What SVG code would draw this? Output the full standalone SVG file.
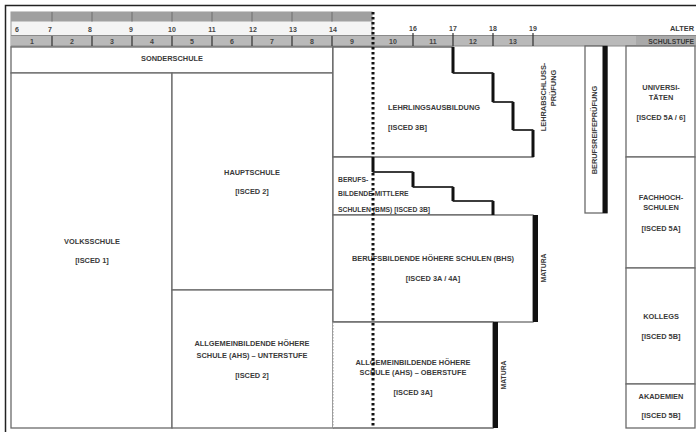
<svg xmlns="http://www.w3.org/2000/svg" width="696" height="432" viewBox="0 0 696 432">
<style>
.t{font-family:"Liberation Sans",Arial,sans-serif;font-size:7.4px;font-weight:bold;fill:#3a3a3a;text-anchor:middle}
.s{font-size:6.8px}
.l{text-anchor:start}
.e{text-anchor:end}
.box{fill:#fff;stroke:#6a6a6a;stroke-width:1.3}
.thick{stroke:#111;stroke-width:3;fill:none}
.thin{stroke:#222;stroke-width:1.3;fill:none}
.bar{stroke:#111;stroke-width:5;fill:none}
.num{font-family:"Liberation Sans",Arial,sans-serif;font-size:7px;font-weight:bold;fill:#444;text-anchor:middle}
.tick{stroke:#333;stroke-width:1.2}
</style>
<rect width="696" height="432" fill="#fff"/>
<path d="M5.5,432 V5.5 H696" fill="none" stroke="#222" stroke-width="1.5"/>

<g id="ruler">
  <rect x="11" y="12" width="361" height="35" fill="#f4f4f4" stroke="#999" stroke-width="1"/>
  <rect x="11" y="12" width="361" height="9.5" fill="#a0a0a0"/>
  <rect x="11" y="35.5" width="685" height="10.5" fill="#b9b9b9"/>
  <path d="M11,35.5 H696 M11,46 H696" stroke="#8a8a8a" stroke-width="1"/>
  <rect x="636" y="36" width="60" height="10" fill="#a9a9a9"/>
  <g class="tick">
    <path d="M52,12 V21.5 M92,12 V21.5 M132,12 V21.5 M172,12 V21.5 M212,12 V21.5 M252,12 V21.5 M292,12 V21.5 M332,12 V21.5" stroke="#777"/>
    <path d="M52,36 V46 M92,36 V46 M132,36 V46 M172,36 V46 M212,36 V46 M252,36 V46 M292,36 V46 M332,36 V46 M413,33 V46 M453,33 V46 M493,33 V46 M533,33 V46"/>
  </g>
  <g class="num">
    <text x="15" y="32" class="l">6</text>
    <text x="50" y="32">7</text>
    <text x="90" y="32">8</text>
    <text x="131" y="32">9</text>
    <text x="172" y="32">10</text>
    <text x="212" y="32">11</text>
    <text x="253" y="32">12</text>
    <text x="293" y="32">13</text>
    <text x="333" y="32">14</text>
    <text x="413" y="31">16</text>
    <text x="453" y="31">17</text>
    <text x="493" y="31">18</text>
    <text x="533" y="31">19</text>
    <text x="32" y="43.5">1</text>
    <text x="72" y="43.5">2</text>
    <text x="112" y="43.5">3</text>
    <text x="152" y="43.5">4</text>
    <text x="192" y="43.5">5</text>
    <text x="232" y="43.5">6</text>
    <text x="272" y="43.5">7</text>
    <text x="312" y="43.5">8</text>
    <text x="352" y="43.5">9</text>
    <text x="393" y="43.5">10</text>
    <text x="433" y="43.5">11</text>
    <text x="473" y="43.5">12</text>
    <text x="513" y="43.5">13</text>
  </g>
  <text class="t e" x="694" y="31">ALTER</text>
  <text class="t e s" x="694" y="43.5">SCHULSTUFE</text>
</g>

<g id="sonderschule">
  <rect class="box" x="11" y="47" width="322" height="26"/>
  <text class="t" x="172" y="61">SONDERSCHULE</text>
</g>
<g id="volksschule">
  <rect class="box" x="11" y="73" width="161" height="355"/>
  <text class="t" x="92" y="243.5">VOLKSSCHULE</text>
  <text class="t" x="92" y="263">[ISCED 1]</text>
</g>
<g id="hauptschule">
  <rect class="box" x="172" y="73" width="161" height="217"/>
  <text class="t" x="252" y="174.5">HAUPTSCHULE</text>
  <text class="t" x="252" y="194">[ISCED 2]</text>
</g>
<g id="ahs-unterstufe">
  <rect class="box" x="172" y="290" width="161" height="138"/>
  <text class="t" x="252" y="346">ALLGEMEINBILDENDE HÖHERE</text>
  <text class="t" x="252" y="357.5">SCHULE (AHS) – UNTERSTUFE</text>
  <text class="t" x="252" y="377.5">[ISCED 2]</text>
</g>
<g id="polytechnische-schule">
  <rect class="box" x="333" y="47" width="40" height="110"/>
  <text class="t" transform="translate(347.5,100) rotate(-90)">POLYTECHNISCHE</text>
  <text class="t" transform="translate(358.5,100) rotate(-90)">SCHULE [ISCED 3C]</text>
</g>
<g id="lehrlingsausbildung">
  <path class="box" d="M373,47 H453 V73 H493 V102 H513 V130 H533 V157 H333 V47 Z"/>
  <text class="t l" x="388" y="110">LEHRLINGSAUSBILDUNG</text>
  <text class="t l" x="388" y="130">[ISCED 3B]</text>
</g>
<g id="lehrabschlusspruefung">
  <text class="t" transform="translate(546,97) rotate(-90)">LEHRABSCHLUSS-</text>
  <text class="t" transform="translate(556,88) rotate(-90)">PRÜFUNG</text>
</g>
<g id="bms">
  <path class="box" d="M333,157 H373 V172 H413 V187 H453 V201 H493 V215 H333 Z"/>
  <text class="t l s" x="338" y="182">BERUFS-</text>
  <text class="t l s" x="338" y="196">BILDENDE MITTLERE</text>
  <text class="t l s" x="338" y="211.5">SCHULEN (BMS) [ISCED 3B]</text>
</g>
<g id="bhs">
  <rect class="box" x="333" y="215" width="200" height="107"/>
  <text class="t" x="433" y="261">BERUFSBILDENDE HÖHERE SCHULEN (BHS)</text>
  <text class="t" x="433" y="281">[ISCED 3A / 4A]</text>
  <text class="t s" transform="translate(546,268) rotate(-90)">MATURA</text>
</g>
<g id="ahs-oberstufe">
  <path d="M333,322 H493 V428 H333" fill="#fff" stroke="#6a6a6a" stroke-width="1.3"/>
  <path d="M333,322 V428" stroke="#999" stroke-width="1" stroke-dasharray="1.5 1.5"/>
  <text class="t" x="413" y="364.5">ALLGEMEINBILDENDE HÖHERE</text>
  <text class="t" x="413" y="375">SCHULE (AHS) – OBERSTUFE</text>
  <text class="t" x="413" y="395">[ISCED 3A]</text>
  <text class="t s" transform="translate(506,375) rotate(-90)">MATURA</text>
</g>
<g id="berufsreifepruefung">
  <rect class="box" x="585" y="46" width="22" height="167"/>
  <text class="t" transform="translate(596.5,130) rotate(-90)">BERUFSREIFEPRÜFUNG</text>
</g>
<g id="universitaeten">
  <rect class="box" x="626" y="46" width="69" height="111"/>
  <text class="t" x="661" y="90">UNIVERSI-</text>
  <text class="t" x="661" y="100">TÄTEN</text>
  <text class="t" x="661" y="120">[ISCED 5A / 6]</text>
</g>
<g id="fachhochschulen">
  <rect class="box" x="626" y="157" width="69" height="111"/>
  <text class="t" x="661" y="200">FACHHOCH-</text>
  <text class="t" x="661" y="210">SCHULEN</text>
  <text class="t" x="661" y="231">[ISCED 5A]</text>
</g>
<g id="kollegs">
  <rect class="box" x="626" y="268" width="69" height="116"/>
  <text class="t" x="661" y="319">KOLLEGS</text>
  <text class="t" x="661" y="339">[ISCED 5B]</text>
</g>
<g id="akademien">
  <rect class="box" x="626" y="384" width="69" height="44"/>
  <text class="t" x="661" y="399">AKADEMIEN</text>
  <text class="t" x="661" y="418">[ISCED 5B]</text>
</g>

<g id="connectors">
  <path class="thick" d="M453,47 V73 M493,73 V102 M513,102 V130 M533,130 V157"/>
  <path class="thin" d="M453,73 H493 M493,102 H513 M513,130 H533"/>
  <path class="thick" d="M373,157 V172 M413,172 V187 M453,187 V201 M493,201 V215"/>
  <path class="thin" d="M373,172 H413 M413,187 H453 M453,201 H493"/>
  <path class="bar" d="M535.5,215 V322 M495.5,322 V428 M605,46 V213"/>
  <path d="M373,12 V157 M373,173 V428" stroke="#111" stroke-width="3" stroke-dasharray="2.5 2.5" fill="none"/>
</g>
</svg>
